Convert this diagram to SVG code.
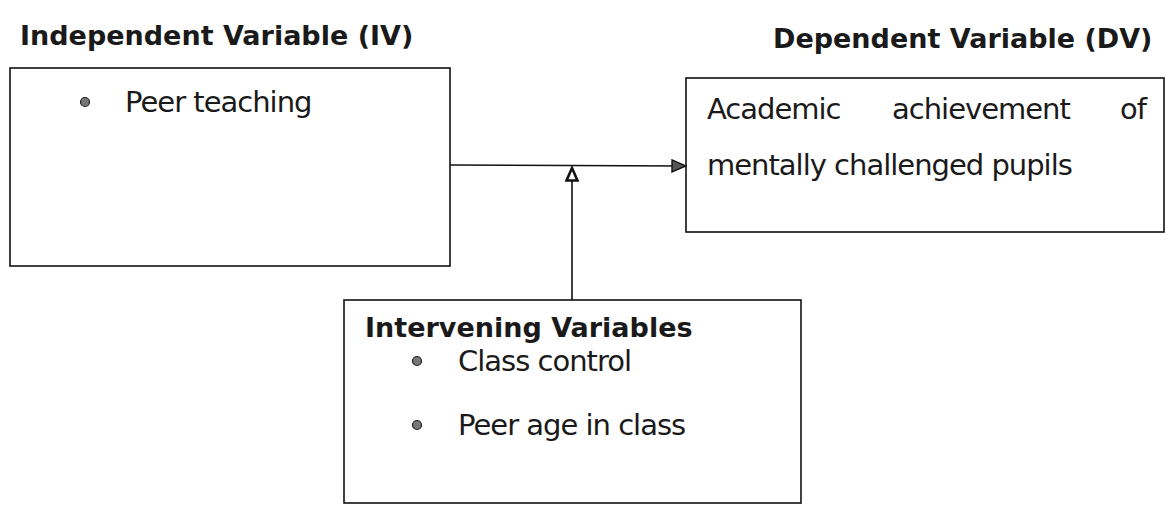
<svg xmlns="http://www.w3.org/2000/svg" width="1166" height="505" viewBox="0 0 1166 505">
<style>
.box{fill:#fff;stroke:#111;stroke-width:1.6}
.title{font-family:"DejaVu Sans",Verdana,sans-serif;font-weight:bold;font-size:27px;fill:#1a1a1a}
.body{font-family:"DejaVu Sans",Verdana,sans-serif;font-size:29px;letter-spacing:-1px;fill:#1a1a1a}
.bullet{fill:#777;stroke:#222;stroke-width:1.2}
.conn{fill:none;stroke:#111;stroke-width:1.6}
</style>
<defs>
<marker id="arrFill" markerUnits="userSpaceOnUse" markerWidth="16" markerHeight="14" refX="15" refY="7" orient="auto">
<path d="M1,1 L15,7 L1,13 Z" fill="#555" stroke="#111" stroke-width="1.4"/>
</marker>
<marker id="arrOpen" markerUnits="userSpaceOnUse" markerWidth="16" markerHeight="14" refX="14" refY="7" orient="auto">
<path d="M1.5,1.5 L14,7 L1.5,12.5 Z" fill="#fff" stroke="#111" stroke-width="2.6"/>
</marker>
</defs>
<rect width="1166" height="505" fill="#fff"/>
<text class="title" x="20" y="45">Independent Variable (IV)</text>
<text class="title" x="773" y="48">Dependent Variable (DV)</text>
<g id="iv">
<rect class="box" x="10" y="68" width="440" height="198"/>
<circle class="bullet" cx="85" cy="102" r="4.5"/>
<text class="body" x="125" y="112">Peer teaching</text>
</g>
<g id="dv">
<rect class="box" x="686" y="78" width="478" height="154"/>
<text class="body" x="707" y="119">Academic</text>
<text class="body" x="892" y="119">achievement</text>
<text class="body" x="1146" y="119" text-anchor="end">of</text>
<text class="body" x="707" y="175">mentally challenged pupils</text>
</g>
<g id="intervening">
<rect class="box" x="344" y="300" width="457" height="203"/>
<text class="title" x="365" y="337">Intervening Variables</text>
<circle class="bullet" cx="417" cy="361" r="4.5"/>
<text class="body" x="458" y="371">Class control</text>
<circle class="bullet" cx="417" cy="425" r="4.5"/>
<text class="body" x="458" y="435">Peer age in class</text>
</g>
<g id="connectors">
<line class="conn" x1="450" y1="165" x2="686" y2="166" marker-end="url(#arrFill)"/>
<line class="conn" x1="572" y1="300" x2="572" y2="168" marker-end="url(#arrOpen)"/>
</g>
</svg>
